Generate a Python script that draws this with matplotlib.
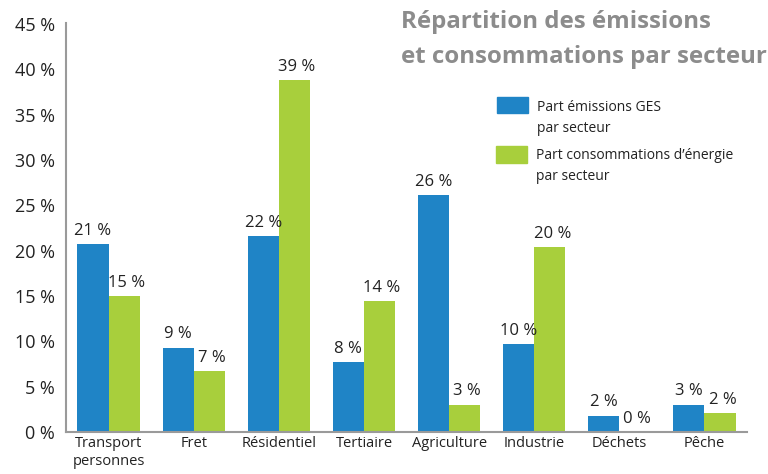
import matplotlib
matplotlib.use("Agg")
import matplotlib.pyplot as plt
import numpy as np

plt.rcParams["font.family"] = ["Open Sans", "DejaVu Sans"]

sectors = ["Transport\npersonnes", "Fret", "Résidentiel", "Tertiaire",
           "Agriculture", "Industrie", "Déchets", "Pêche"]
ges = [20.7, 9.3, 21.6, 7.7, 26.1, 9.7, 1.8, 3.0]
energie = [15.0, 6.7, 38.8, 14.4, 3.0, 20.4, 0.0, 2.1]
ges_lbl = ["21 %", "9 %", "22 %", "8 %", "26 %", "10 %", "2 %", "3 %"]
en_lbl = ["15 %", "7 %", "39 %", "14 %", "3 %", "20 %", "0 %", "2 %"]
yticks = [0, 5, 10, 15, 20, 25, 30, 35, 40, 45]

BLUE = "#1f84c6"
GREEN = "#a8cf3c"
GREY = "#8c8c8c"

fig = plt.figure(figsize=(7.68, 4.74), dpi=100)
ax = fig.add_axes([66 / 768, 42 / 474, 681 / 768, 409 / 474])

x = np.arange(len(sectors))
w = 0.365
ax.bar(x - w / 2, ges, w, color=BLUE)
ax.bar(x + w / 2, energie, w, color=GREEN)

for i in range(len(x)):
    ax.text(x[i] - w / 2, ges[i] + 0.6, ges_lbl[i], ha="center",
            va="bottom", fontsize=12, color="#222222")
    ax.text(x[i] + w / 2 + 0.03, energie[i] + 0.6, en_lbl[i], ha="center",
            va="bottom", fontsize=12, color="#222222")

ax.set_xlim(-0.5, len(x) - 0.5)
ax.set_ylim(0, 45.1)
ax.set_yticks(yticks)
ax.set_yticklabels([f"{v} %" for v in yticks], fontsize=13, color="#222222")
ax.set_xticks(x)
ax.set_xticklabels(sectors, fontsize=10.5, color="#222222", linespacing=1.3)
ax.tick_params(axis="both", length=0)
ax.tick_params(axis="y", pad=8)
ax.tick_params(axis="x", pad=3)
for s in ["top", "right"]:
    ax.spines[s].set_visible(False)
for s in ["left", "bottom"]:
    ax.spines[s].set_color("#9a9a9a")
    ax.spines[s].set_linewidth(1.5)

fig.text(401 / 768, 1 - 10 / 474, "Répartition des émissions\net consommations par secteur",
         ha="left", va="top", fontsize=17.3, fontweight="bold", color=GREY,
         linespacing=1.62)

# legend
fig.patches.append(plt.Rectangle((497 / 768, 1 - 113 / 474), 31 / 768, 16 / 474,
                                 transform=fig.transFigure, color=BLUE))
fig.patches.append(plt.Rectangle((496 / 768, 1 - 163 / 474), 31 / 768, 17 / 474,
                                 transform=fig.transFigure, color=GREEN))
fig.text(537 / 768, 1 - 118 / 474, "Part émissions GES\npar secteur", ha="left",
         va="center", fontsize=10, color="#222222", linespacing=1.5)
fig.text(536 / 768, 1 - 166 / 474, "Part consommations d’énergie\npar secteur",
         ha="left", va="center", fontsize=10, color="#222222", linespacing=1.5)

fig.savefig("out.png", dpi=100)
